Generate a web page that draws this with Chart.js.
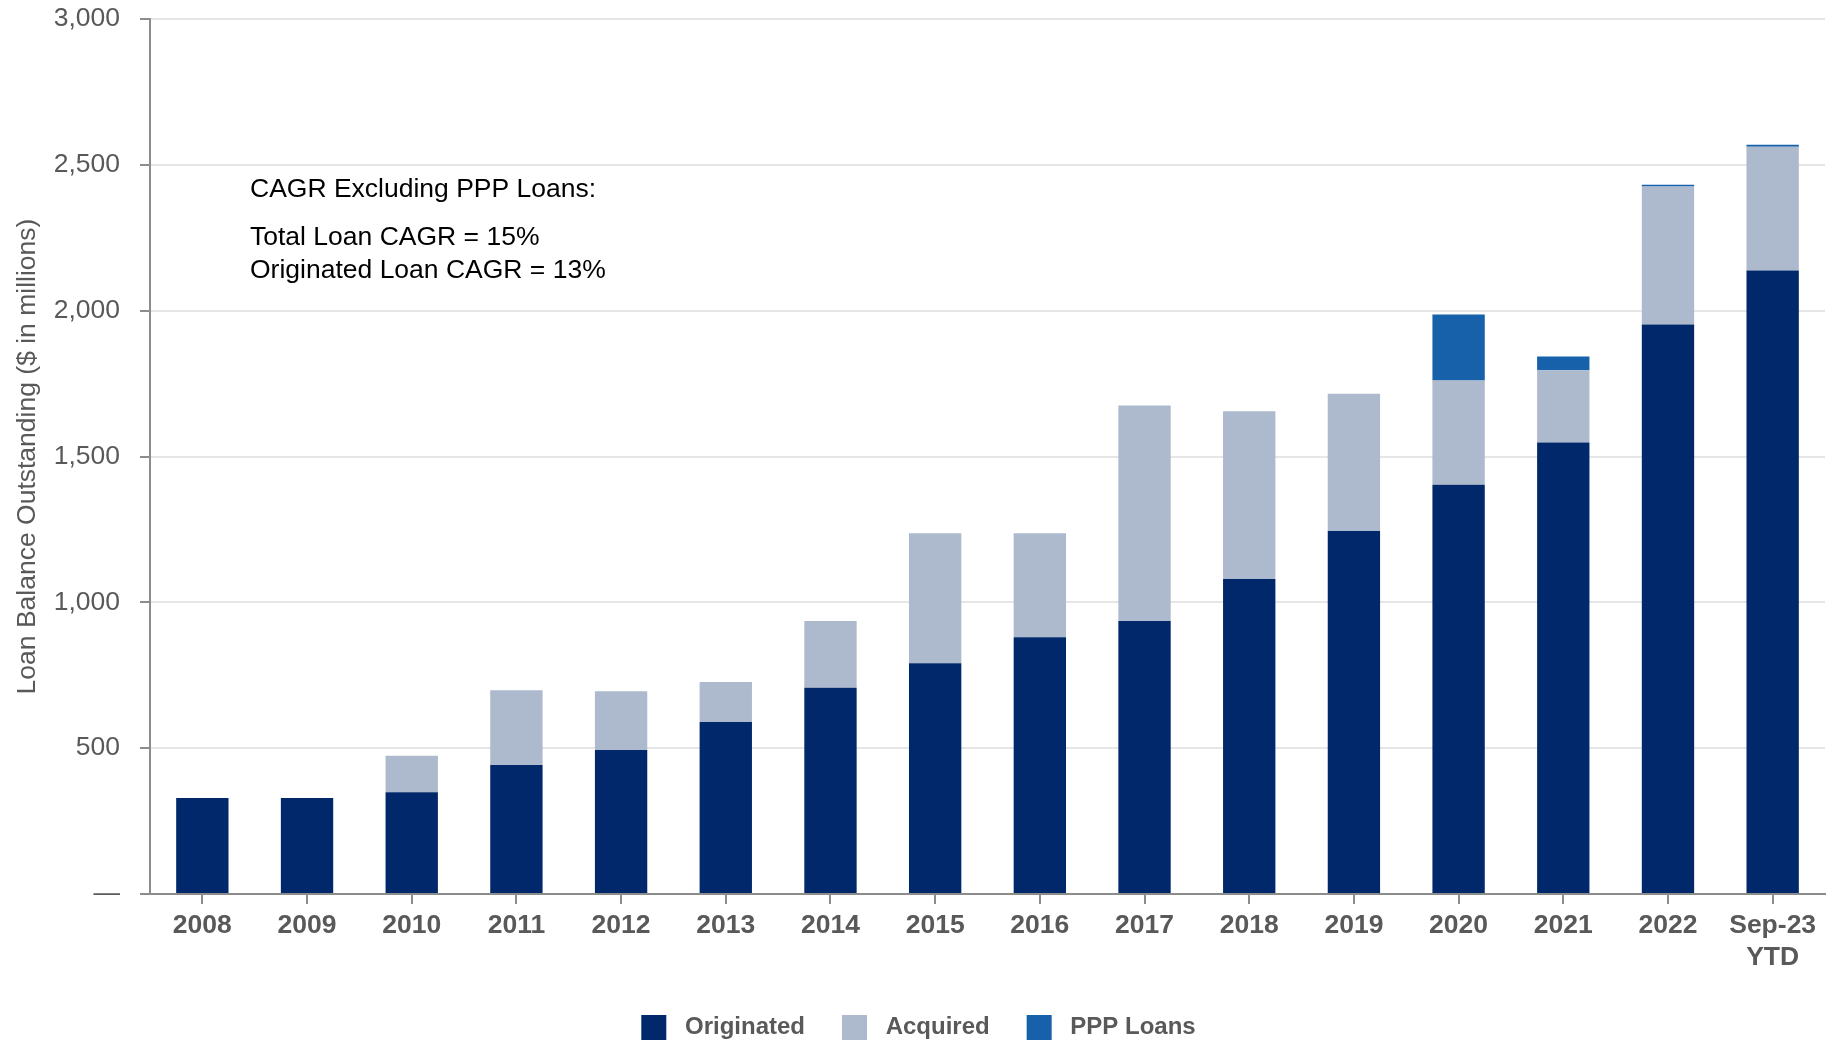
<!DOCTYPE html>
<html>
<head>
<meta charset="utf-8">
<script src="https://cdn.jsdelivr.net/npm/chart.js@4"></script>
<style>
  html, body { margin: 0; padding: 0; background: #fff; overflow: hidden; }
  #wrap { position: relative; width: 1837px; height: 1050px; }
</style>
</head>
<body>
<div id="wrap"><canvas id="loanChart"></canvas></div>
<script>
// categories and series ($ in millions)
const years = ['2008', '2009', '2010', '2011', '2012', '2013', '2014', '2015',
  '2016', '2017', '2018', '2019', '2020', '2021', '2022', ['Sep-23', 'YTD']];
const originated = [329, 329, 349, 442, 494, 590, 707, 791, 880, 936, 1080, 1245, 1403, 1548, 1953, 2138];
const acquired = [0, 0, 125, 257, 201, 137, 229, 446, 357, 739, 575, 470, 358, 248, 473, 424];
const pppLoans = [0, 0, 0, 0, 0, 0, 0, 0, 0, 0, 0, 0, 226, 47, 6, 7];
const yTicks = [0, 500, 1000, 1500, 2000, 2500, 3000];
const notes = ['CAGR Excluding PPP Loans:', 'Total Loan CAGR = 15%', 'Originated Loan CAGR = 13%'];

const FONT = "'Liberation Sans', Arial, sans-serif";
const GREY_TXT = '#595959';
const AXIS = '#8c8c8c';

const notesPlugin = {
    id: 'notes',
    afterDraw(chart) {
        const { ctx, chartArea } = chart;
        const offsets = [171, 219, 252];
        ctx.save();
        ctx.font = `26.5px ${FONT}`;
        ctx.fillStyle = '#000';
        ctx.textAlign = 'left';
        ctx.textBaseline = 'middle';
        notes.forEach((t, i) => ctx.fillText(t, chartArea.left + 100, chartArea.top + offsets[i]));
        ctx.restore();
    }
};

const ctx = document.getElementById('loanChart').getContext('2d');
new Chart(ctx, {
    type: 'bar',
    data: {
        labels: years,
        datasets: [
            { label: 'Originated', data: originated, backgroundColor: '#00286a' },
            { label: 'Acquired', data: acquired, backgroundColor: '#adb9cc' },
            { label: 'PPP Loans', data: pppLoans, backgroundColor: '#1761aa' }
        ]
    },
    options: {
        responsive: true,
        maintainAspectRatio: false,
        animation: false,
        datasets: { bar: { barPercentage: 0.5, categoryPercentage: 1.0 } },
        layout: { padding: { top: 19, right: 12, left: 12, bottom: 0 } },
        plugins: {
            tooltip: { enabled: false },
            legend: {
                position: 'bottom',
                labels: {
                    boxWidth: 25,
                    boxHeight: 25,
                    padding: 37,
                    color: GREY_TXT,
                    font: { family: FONT, size: 24, weight: 'bold' },
                    // a leading space widens the gap between swatch and text
                    generateLabels: chart => Chart.defaults.plugins.legend.labels.generateLabels(chart)
                        .map(item => ({ ...item, text: ' ' + item.text }))
                }
            }
        },
        scales: {
            x: {
                stacked: true,
                afterFit: axis => { axis.height = 84; },
                border: { color: AXIS, width: 2 },
                grid: {
                    offset: false,
                    drawOnChartArea: false,
                    tickLength: 10,
                    tickColor: AXIS,
                    lineWidth: 2
                },
                ticks: {
                    autoSkip: false,
                    maxRotation: 0,
                    padding: 6,
                    color: GREY_TXT,
                    font: { family: FONT, size: 26.5, weight: 'bold', lineHeight: 1.2 }
                }
            },
            y: {
                stacked: true,
                min: 0,
                max: 3000,
                afterFit: axis => {
                    axis.width = 138;
                    // tick padding would otherwise push the plot top down
                    axis.paddingTop = 0;
                },
                afterBuildTicks: axis => { axis.ticks = yTicks.map(v => ({ value: v })); },
                border: { color: AXIS, width: 2 },
                grid: {
                    color: '#e6e6e6',
                    lineWidth: 2,
                    tickLength: 10,
                    tickColor: AXIS
                },
                ticks: {
                    padding: 20,
                    color: GREY_TXT,
                    font: { family: FONT, size: 26.5 },
                    callback: v => v === 0 ? '\u2014' : v.toLocaleString('en-US')
                },
                title: {
                    display: true,
                    text: 'Loan Balance Outstanding ($ in millions)',
                    color: GREY_TXT,
                    font: { family: FONT, size: 26.5 },
                    padding: { top: 0, bottom: 0 }
                }
            }
        }
    },
    plugins: [notesPlugin]
});
</script>
</body>
</html>
